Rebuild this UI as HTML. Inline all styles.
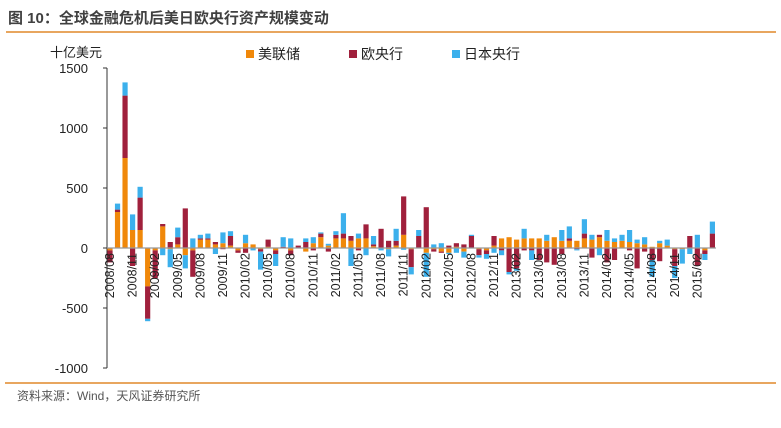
<!DOCTYPE html>
<html><head><meta charset="utf-8">
<style>
body{margin:0;background:#fff;width:781px;height:423px;overflow:hidden;font-family:"Liberation Sans","Noto Sans CJK SC",sans-serif;}
</style></head><body>
<svg id="s" width="781" height="423" xmlns="http://www.w3.org/2000/svg" font-family="Liberation Sans, Noto Sans CJK SC, sans-serif">
<text x="8" y="23" font-size="15" font-weight="bold" fill="#404040">图 10：全球金融危机后美日欧央行资产规模变动</text>
<line x1="6" y1="32" x2="776" y2="32" stroke="#e0892a" stroke-width="1.5"/>
<line x1="5" y1="383" x2="776" y2="383" stroke="#e0892a" stroke-width="1.5"/>
<text x="17" y="400" font-size="12" fill="#555">资料来源：Wind，天风证券研究所</text>
<text x="50" y="57" font-size="13" fill="#222">十亿美元</text>
<rect x="246" y="50" width="8" height="8" fill="#f0880a"/><text x="258" y="59" font-size="14" fill="#222">美联储</text>
<rect x="349" y="50" width="8" height="8" fill="#a0203c"/><text x="361" y="59" font-size="14" fill="#222">欧央行</text>
<rect x="452" y="50" width="8" height="8" fill="#3cb0ec"/><text x="464" y="59" font-size="14" fill="#222">日本央行</text>
<g id="ax" font-size="13" fill="#222" text-anchor="end"></g>
<g id="bars"></g>
<g id="lab" font-size="12.5" fill="#222"></g>
</svg>
<script>
var Z=248,K=0.12;
var ax=document.getElementById('ax'),bars=document.getElementById('bars'),lab=document.getElementById('lab');
var h='';
[1500,1000,500,0,-500,-1000].forEach(function(v){var y=Z-v*K;h+='<text x="88" y="'+(y+5)+'">'+v+'</text><line x1="103" y1="'+y+'" x2="107" y2="'+y+'" stroke="#333"/>';});
h+='<line x1="107" y1="68" x2="107" y2="368" stroke="#333"/>';
ax.innerHTML=h;
var d=[[-20,-100,0],[300,20,50],[750,520,110],[150,-150,130],[150,270,90],[-320,-270,-20],[-20,-230,0],[180,20,-60],[-10,50,-150],[30,60,80],[-60,330,-110],[-20,-220,80],[70,10,30],[70,10,40],[30,20,-50],[40,-10,90],[20,80,40],[-20,-20,0],[40,-40,70],[30,0,-20],[-10,-20,-150],[10,60,0],[-20,-30,-100],[0,10,80],[-20,-40,80],[0,20,0],[-30,50,30],[40,-20,50],[90,30,10],[20,-30,15],[80,30,30],[80,40,170],[60,40,-150],[80,-20,40],[80,117,-60],[15,15,70],[0,160,-20],[-10,60,-60],[20,40,100],[110,320,-15],[-10,-150,-60],[0,100,50],[-40,340,-200],[-10,-20,30],[-30,-10,40],[-40,20,-10],[10,30,-40],[-30,30,-50],[0,100,10],[-10,-50,-20],[-20,-30,-40],[20,80,-40],[80,-20,-40],[90,-200,-20],[70,-170,-20],[80,-20,80],[80,-20,-80],[80,-100,0],[60,-120,50],[90,-140,0],[60,-50,90],[60,20,100],[60,-10,-10],[80,40,120],[70,-80,40],[90,20,-60],[60,-120,90],[50,-100,30],[60,0,50],[50,-20,100],[40,-170,30],[30,-30,60],[10,-100,-140],[40,-110,20],[20,0,50],[-10,-140,-100],[-10,0,-120],[0,100,-50],[0,-150,110],[-20,-30,-50],[0,120,100]];
var b='',l='';
d.forEach(function(r,i){var cx=110+i*7.53,w=5.2,x=cx-w/2,pos=0,neg=0,cols=['#f0880a','#a0203c','#3cb0ec'];
r.forEach(function(v,j){if(v>=0){var y=Z-(pos+v)*K;b+='<rect x="'+x+'" y="'+y+'" width="'+w+'" height="'+(v*K)+'" fill="'+cols[j]+'"/>';pos+=v;}else{var y=Z+neg*K;b+='<rect x="'+x+'" y="'+y+'" width="'+w+'" height="'+(-v*K)+'" fill="'+cols[j]+'"/>';neg-=v;}});
if(i%3==0){var yy=2008,mm=8+i;yy+=Math.floor((mm-1)/12);mm=(mm-1)%12+1;var t=yy+'/'+(mm<10?'0':'')+mm;l+='<text transform="translate('+(cx+4)+',253) rotate(-90)" text-anchor="end">'+t+'</text>';}
});
b+='<line x1="107" y1="248" x2="716" y2="248" stroke="#999" stroke-width="1.2"/>';
bars.innerHTML=b;lab.innerHTML=l;
</script>
</body></html>
